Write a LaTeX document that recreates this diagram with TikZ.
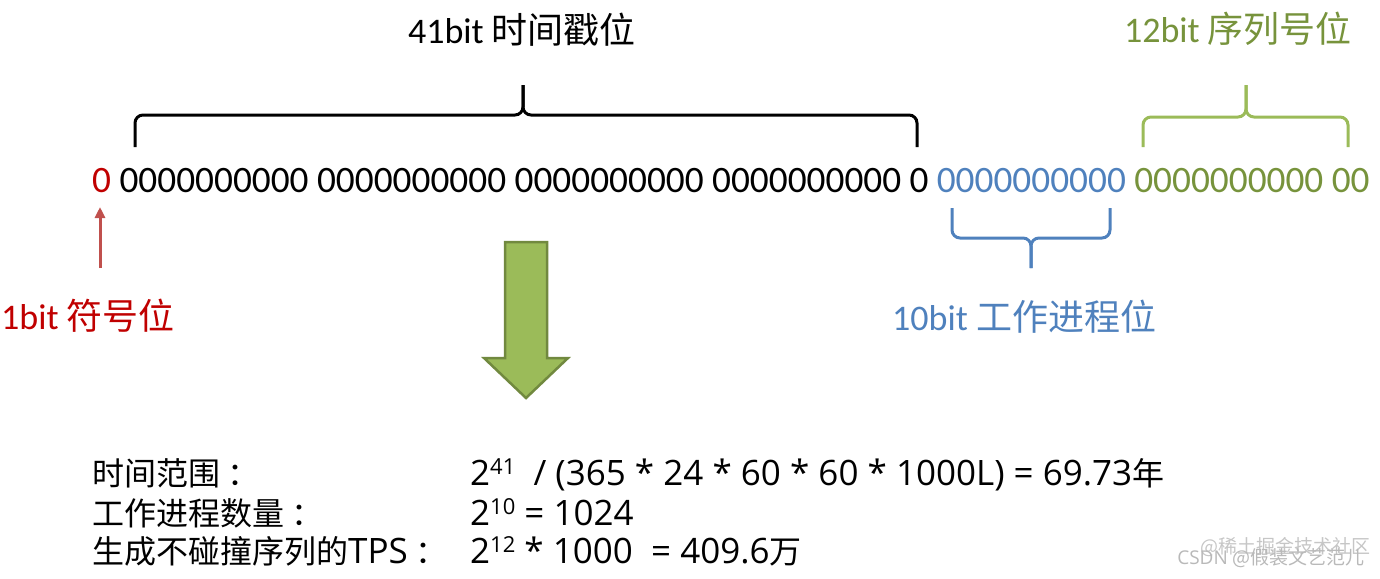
\documentclass[tikz,border=0pt]{standalone}
\usepackage{fontspec}
\setmainfont{Carlito}
\newfontfamily\cjk{Noto Sans CJK SC}
\newfontfamily\btmfont{Open Sans}
\usetikzlibrary{arrows.meta}
\definecolor{sigred}{HTML}{C00000}
\definecolor{arrred}{HTML}{C0504D}
\definecolor{wblue}{HTML}{4F81BD}
\definecolor{sgreen}{HTML}{77933C}
\definecolor{bgreen}{HTML}{9BBB59}
\definecolor{agreen}{HTML}{71893F}
\newcommand\fsz[1]{\fontsize{#1}{#1}\selectfont}
\newcommand\supr[1]{\raisebox{0.3em}{\fsz{22}#1}}
\newcommand\ck[1]{{\cjk\fsz{32}#1}}
\begin{document}
\begin{tikzpicture}[x=1pt,y=-1pt,
  txt/.style={inner sep=0pt,anchor=base west},
  bracepath/.style={line width=3pt,rounded corners=8pt},
  lbl/.style={inner sep=0pt,anchor=base west,font=\fsz{36}},
  btm/.style={inner sep=0pt,anchor=base west,font=\btmfont\fsz{35}}]
\useasboundingbox (0,0) rectangle (1380,578);
% bit string
\node[txt,font=\fsz{37.3}] (bits) at (92,192)
  {{\color{sigred}0} 0000000000 0000000000 0000000000 0000000000 0 {\color{wblue}0000000000} {\color{sgreen}0000000000 00}};
% labels
\node[inner sep=0pt,anchor=base,font=\fsz{36}] (tslbl) at (522,44) {41bit {\cjk 时间戳位}};
\node[inner sep=0pt,anchor=base,font=\fsz{36},text=sgreen] (seqlbl) at (1238,42) {12bit {\cjk 序列号位}};
\node[lbl,text=sigred] (siglbl) at (1,329) {1bit {\cjk 符号位}};
\node[lbl,text=wblue] (wlbl) at (892,330) {10bit {\cjk 工作进程位}};
% braces
\draw[bracepath,black] (135,147) |- (523,115) -- (523,85);
\draw[bracepath,black] (917,147) |- (523,115) -- (523,85);
\draw[bracepath,bgreen] (1143,147) |- (1246,117) -- (1246,85);
\draw[bracepath,bgreen] (1348,147) |- (1246,117) -- (1246,85);
\draw[bracepath,wblue] (952,208) |- (1031,238) -- (1031,268);
\draw[bracepath,wblue] (1110,208) |- (1031,238) -- (1031,268);
% sign arrow
\coordinate (sigtail) at (100,268);
\coordinate (sighead) at (100,207);
\draw[arrred,line width=3pt,-{Triangle[length=11pt,width=10pt]}] (sigtail) -- (sighead);
% block arrow
\draw[fill=bgreen,draw=agreen,line width=2.5pt,line join=miter]
  (505,242) -- (547,242) -- (547,358) -- (568,358) -- (526,398) -- (484,358) -- (505,358) -- cycle;
% bottom text
\node[btm] (l1) at (92,485) {\ck{时间范围\ ：}};
\node[btm] (l2) at (92,525) {\ck{工作进程数量\ ：}};
\node[btm] (l3) at (92,563) {\ck{生成不碰撞序列的}TPS\ck{\ ：}};
\node[btm] (v1) at (470,485) {2\supr{41}\ \ / (365 * 24 * 60 * 60 * 1000L) = 69.73\ck{年}};
\node[btm] (v2) at (470,525) {2\supr{10} = 1024};
\node[btm] (v3) at (470,563) {2\supr{12} * 1000 \ = 409.6\ck{万}};
% watermark
\node[inner sep=0pt,anchor=base west,font=\fsz{19},text=gray!45] (wm1) at (1200,553) {\cjk @稀土掘金技术社区};
\node[inner sep=0pt,anchor=base east,font=\btmfont\fsz{19},text=gray!55] (wm2) at (1365,564) {CSDN {\cjk @假装文艺范儿}};
\end{tikzpicture}
\end{document}
